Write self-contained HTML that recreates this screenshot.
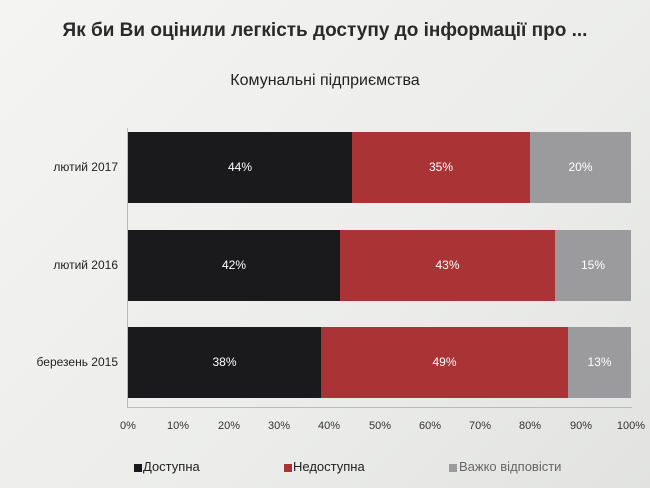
<!DOCTYPE html>
<html><head><meta charset="utf-8"><style>
body{margin:0;width:650px;height:488px;overflow:hidden;background:linear-gradient(135deg,#f4f4f2 0%,#ecedeb 60%,#e2e3e1 100%);font-family:"Liberation Sans","DejaVu Sans",sans-serif;position:relative}
.t{position:absolute;white-space:nowrap}
.bar{position:absolute;height:71px}
.lbl{position:absolute;color:#fff;font-size:12px;text-align:center}
.yl{position:absolute;font-size:12px;color:#222;text-align:right;width:110px;left:8px}
.tk{position:absolute;font-size:11px;color:#333;width:40px;text-align:center;top:420px}
</style></head><body>
<div class="t" style="left:0;width:650px;text-align:center;top:20px;font-size:19px;font-weight:bold;color:#2a2a2a">Як би Ви оцінили легкість доступу до інформації про ...</div>
<div class="t" style="left:0;width:650px;text-align:center;top:72px;font-size:16px;color:#222">Комунальні підприємства</div>
<div style="position:absolute;left:127px;top:128px;width:1px;height:280px;background:#bbb"></div>
<div style="position:absolute;left:127px;top:407px;width:505px;height:1px;background:#bbb"></div>

<div class="bar" style="left:128px;top:132px;width:224px;background:#1a1a1c"></div>
<div class="bar" style="left:352px;top:132px;width:178px;background:#aa3336"></div>
<div class="bar" style="left:530px;top:132px;width:101px;background:#9b9b9d"></div>
<div class="bar" style="left:128px;top:230px;width:212px;background:#1a1a1c"></div>
<div class="bar" style="left:340px;top:230px;width:215px;background:#aa3336"></div>
<div class="bar" style="left:555px;top:230px;width:76px;background:#9b9b9d"></div>
<div class="bar" style="left:128px;top:327px;width:193px;background:#1a1a1c"></div>
<div class="bar" style="left:321px;top:327px;width:247px;background:#aa3336"></div>
<div class="bar" style="left:568px;top:327px;width:63px;background:#9b9b9d"></div>

<div class="lbl" style="left:128px;width:224px;top:160px">44%</div>
<div class="lbl" style="left:352px;width:178px;top:160px">35%</div>
<div class="lbl" style="left:530px;width:101px;top:160px">20%</div>
<div class="lbl" style="left:128px;width:212px;top:258px">42%</div>
<div class="lbl" style="left:340px;width:215px;top:258px">43%</div>
<div class="lbl" style="left:555px;width:76px;top:258px">15%</div>
<div class="lbl" style="left:128px;width:193px;top:355px">38%</div>
<div class="lbl" style="left:321px;width:247px;top:355px">49%</div>
<div class="lbl" style="left:568px;width:63px;top:355px">13%</div>

<div class="yl" style="top:160px">лютий 2017</div>
<div class="yl" style="top:258px">лютий 2016</div>
<div class="yl" style="top:355px">березень 2015</div>

<div class="tk" style="left:108px">0%</div>
<div class="tk" style="left:158px">10%</div>
<div class="tk" style="left:209px">20%</div>
<div class="tk" style="left:259px">30%</div>
<div class="tk" style="left:309px">40%</div>
<div class="tk" style="left:360px">50%</div>
<div class="tk" style="left:410px">60%</div>
<div class="tk" style="left:460px">70%</div>
<div class="tk" style="left:510px">80%</div>
<div class="tk" style="left:561px">90%</div>
<div class="tk" style="left:611px">100%</div>

<div style="position:absolute;left:134px;top:464px;width:8px;height:8px;background:#1a1a1c"></div>
<div class="t" style="left:143px;top:459px;font-size:13px;color:#222">Доступна</div>
<div style="position:absolute;left:284px;top:464px;width:8px;height:8px;background:#aa3336"></div>
<div class="t" style="left:293px;top:459px;font-size:13px;color:#222">Недоступна</div>
<div style="position:absolute;left:449px;top:464px;width:8px;height:8px;background:#9b9b9d"></div>
<div class="t" style="left:459px;top:459px;font-size:13px;color:#666">Важко відповісти</div>
</body></html>
